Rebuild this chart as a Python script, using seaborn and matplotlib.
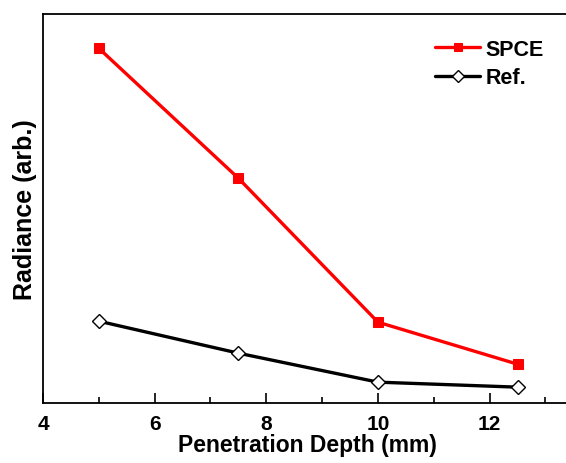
import seaborn as sns
import matplotlib.pyplot as plt
import pandas as pd
import numpy as np
from matplotlib.ticker import MultipleLocator

depth = [5, 7.5, 10, 12.5]
spce = [355, 225, 81, 39]
ref = [82, 50, 21, 16]

sns.set_style("ticks")
plt.rcParams['font.family'] = ['Liberation Sans', 'DejaVu Sans']
plt.rcParams['font.weight'] = 'bold'
plt.rcParams['text.color'] = 'black'
plt.rcParams['axes.labelcolor'] = 'black'
plt.rcParams['xtick.color'] = 'black'

df = pd.DataFrame({"depth": depth + depth,
                   "radiance": spce + ref,
                   "series": ["SPCE"] * 4 + ["Ref."] * 4})

fig = plt.figure(figsize=(5.66, 4.64), dpi=100)
# right side of the frame sits just past the image edge, like the original
ax = fig.add_axes([0.076, 0.129, 0.933, 0.838])

sns.lineplot(data=df[df.series == "SPCE"], x="depth", y="radiance", ax=ax,
             color="#ff0000", lw=2.4, marker="s", markersize=7,
             markerfacecolor="#ff0000", markeredgecolor="#ff0000", label="SPCE")
sns.lineplot(data=df[df.series == "Ref."], x="depth", y="radiance", ax=ax,
             color="black", lw=2.4, marker="D", markersize=7.5,
             markerfacecolor="white", markeredgecolor="black", markeredgewidth=1,
             label="Ref.")

ax.set_xlim(4, 13.46)
ax.set_ylim(0, 389)
ax.xaxis.set_major_locator(MultipleLocator(2))
ax.xaxis.set_minor_locator(MultipleLocator(1))
ax.set_yticks([])
ax.tick_params(axis="x", which="major", direction="in", length=7, width=1.2,
               labelsize=15, pad=8, colors="black")
ax.tick_params(axis="x", which="minor", direction="in", length=4, width=1.2)
for lab in ax.get_xticklabels():
    lab.set_fontweight("bold")
for s in ax.spines.values():
    s.set_linewidth(1.3)
    s.set_color("black")

ax.set_xlabel("Penetration Depth (mm)", fontsize=16.5, fontweight="bold",
              labelpad=0, color="black")
ax.set_ylabel("Radiance (arb.)", fontsize=18, fontweight="bold", labelpad=4,
              color="black")

leg = ax.legend(loc="upper left", bbox_to_anchor=(0.769, 0.914),
                bbox_transform=fig.transFigure, frameon=False, borderpad=0,
                borderaxespad=0, fontsize=15.5, handlelength=2.1,
                handletextpad=0.25, labelspacing=0.35, markerscale=0.85)
for t in leg.get_texts():
    t.set_fontweight("bold")
    t.set_color("black")

plt.savefig("out.png", dpi=100)
